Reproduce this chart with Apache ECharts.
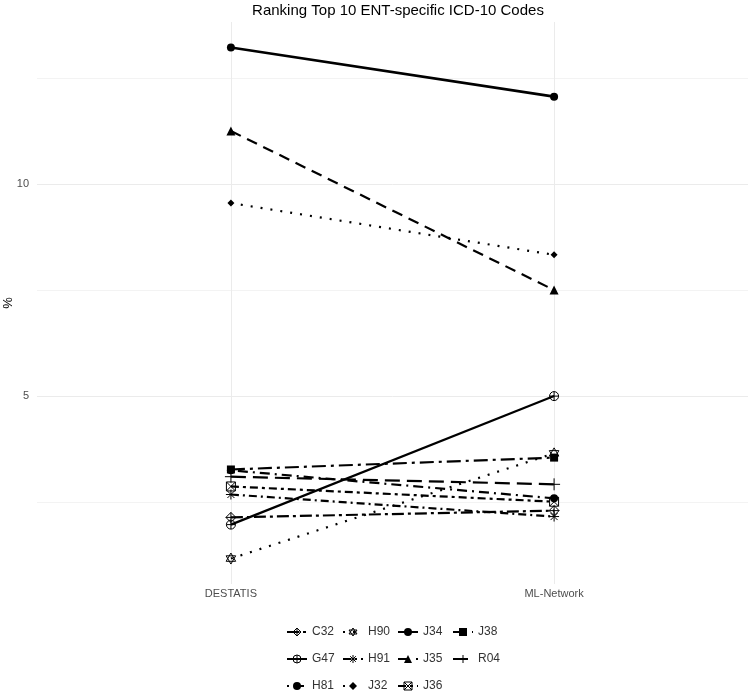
<!DOCTYPE html>
<html>
<head>
<meta charset="utf-8">
<script src="https://cdn.jsdelivr.net/npm/echarts@6/dist/echarts.min.js"></script>
<style>
  html, body { margin: 0; padding: 0; background: #fff; }
  #chart { width: 750px; height: 694px; }
</style>
</head>
<body>
<div id="chart"></div>
<script>
var categories = ['DESTATIS', 'ML-Network'];
var codes = ['C32', 'G47', 'H81', 'H90', 'H91', 'J32', 'J34', 'J35', 'J36', 'J38', 'R04'];
var destatis = [2.14, 1.97, 3.25, 1.17, 2.68, 9.55, 13.22, 11.25, 2.87, 3.27, 3.10];
var mlNetwork = [2.30, 5.00, 2.59, 3.65, 2.16, 8.33, 12.06, 7.50, 2.51, 3.55, 2.92];
var yTicks = [2.5, 5, 7.5, 10, 12.5];
var yLabels = [5, 10];

// shapes (ggplot-ish)
var shapes = {
    C32: { symbol: 'path://M0,-5L5,0L0,5L-5,0Z M0,-5L0,5 M-5,0L5,0', open: true, size: 10 },
    G47: { symbol: 'path://M-5,0A5,5 0 1 0 5,0A5,5 0 1 0 -5,0Z M-5,0L5,0 M0,-5L0,5', open: true, size: 9 },
    H81: { symbol: 'circle', open: false, size: 8 },
    H90: { symbol: 'path://M0,-5L4.33,2.5L-4.33,2.5Z M0,5L4.33,-2.5L-4.33,-2.5Z', open: true, size: 11 },
    H91: { symbol: 'path://M-5,0L5,0 M0,-5L0,5 M-3.5,-3.5L3.5,3.5 M-3.5,3.5L3.5,-3.5', open: true, size: 10 },
    J32: { symbol: 'diamond', open: false, size: 7 },
    J34: { symbol: 'circle', open: false, size: 8 },
    J35: { symbol: 'triangle', open: false, size: 9 },
    J36: { symbol: 'path://M-5,-5L5,-5L5,5L-5,5Z M-5,-5L5,5 M-5,5L5,-5', open: true, size: 9 },
    J38: { symbol: 'rect', open: false, size: 8 },
    R04: { symbol: 'path://M-5,0L5,0 M0,-5L0,5', open: true, size: 12 }
};

var dashes = {
    C32: [12, 4, 3, 4],
    G47: 'solid',
    H81: [2, 5, 10, 5],
    H90: [2, 8],
    H91: [8, 4, 2, 4],
    J32: [2, 8],
    J34: 'solid',
    J35: [11, 7],
    J36: [8, 4, 3, 4],
    J38: [14, 5, 3, 5],
    R04: [15, 7]
};

function markStyle(code) {
    return shapes[code].open
        ? { color: 'none', borderColor: '#000', borderWidth: 1 }
        : { color: '#000', borderWidth: 0 };
}

var series = codes.map(function (code, i) {
    var s = shapes[code];
    return {
        name: code,
        type: 'line',
        data: [[1, destatis[i]], [2, mlNetwork[i]]],
        symbol: s.symbol,
        symbolSize: s.size,
        symbolKeepAspect: true,
        lineStyle: { color: '#000', width: code === 'J34' ? 2.6 : 2.2, type: dashes[code] },
        itemStyle: markStyle(code),
        emphasis: { disabled: true },
        z: code === 'H81' ? 4 : 2
    };
});

var legendCols = [['C32', 'G47', 'H81'], ['H90', 'H91', 'J32'], ['J34', 'J35', 'J36'], ['J38', 'R04']];
var legendLeft = [286, 342, 397, 452];
var legends = legendCols.map(function (col, k) {
    return {
        data: col.map(function (c) { return { name: c, itemStyle: markStyle(c) }; }),
        orient: 'vertical',
        left: legendLeft[k],
        top: 625,
        height: 120,
        padding: 0,
        itemWidth: 20,
        itemHeight: 10,
        itemGap: 13,
        selectedMode: false,
        textStyle: { fontSize: 12, lineHeight: 14, color: '#333', fontFamily: 'Liberation Sans' }
    };
});

var chart = echarts.init(document.getElementById('chart'));
chart.setOption({
    animation: false,
    backgroundColor: '#fff',
    title: {
        text: 'Ranking Top 10 ENT-specific ICD-10 Codes',
        left: 393,
        textAlign: 'center',
        top: -2,
        textStyle: { fontSize: 15, fontWeight: 'normal', color: '#000', fontFamily: 'Liberation Sans' }
    },
    legend: legends,
    grid: { left: 37, right: 2, top: 22, height: 562, outerBoundsMode: 'none', containLabel: false },
    xAxis: {
        type: 'value',
        min: 0.4,
        max: 2.6,
        axisLine: { show: false },
        axisTick: { show: false, customValues: [1, 2] },
        axisLabel: {
            customValues: [1, 2],
            margin: 4,
            fontSize: 11,
            color: '#4d4d4d',
            fontFamily: 'Liberation Sans',
            formatter: function (v) { return categories[Math.round(v) - 1]; }
        },
        splitLine: { show: true, lineStyle: { color: '#ebebeb', width: 1 } }
    },
    yAxis: {
        type: 'value',
        min: 0.57,
        max: 13.82,
        name: '%',
        nameLocation: 'middle',
        nameRotate: 90,
        nameGap: 22,
        nameMoveOverlap: false,
        nameTextStyle: { fontSize: 13, color: '#000', fontFamily: 'Liberation Sans' },
        axisLine: { show: false },
        axisTick: { show: false, customValues: yTicks },
        axisLabel: {
            customValues: yLabels,
            margin: 8,
            fontSize: 11,
            color: '#4d4d4d',
            fontFamily: 'Liberation Sans'
        },
        splitLine: { show: true, lineStyle: { color: ['#f3f3f3', '#ebebeb'], width: 1 } }
    },
    series: series
});
</script>
</body>
</html>
